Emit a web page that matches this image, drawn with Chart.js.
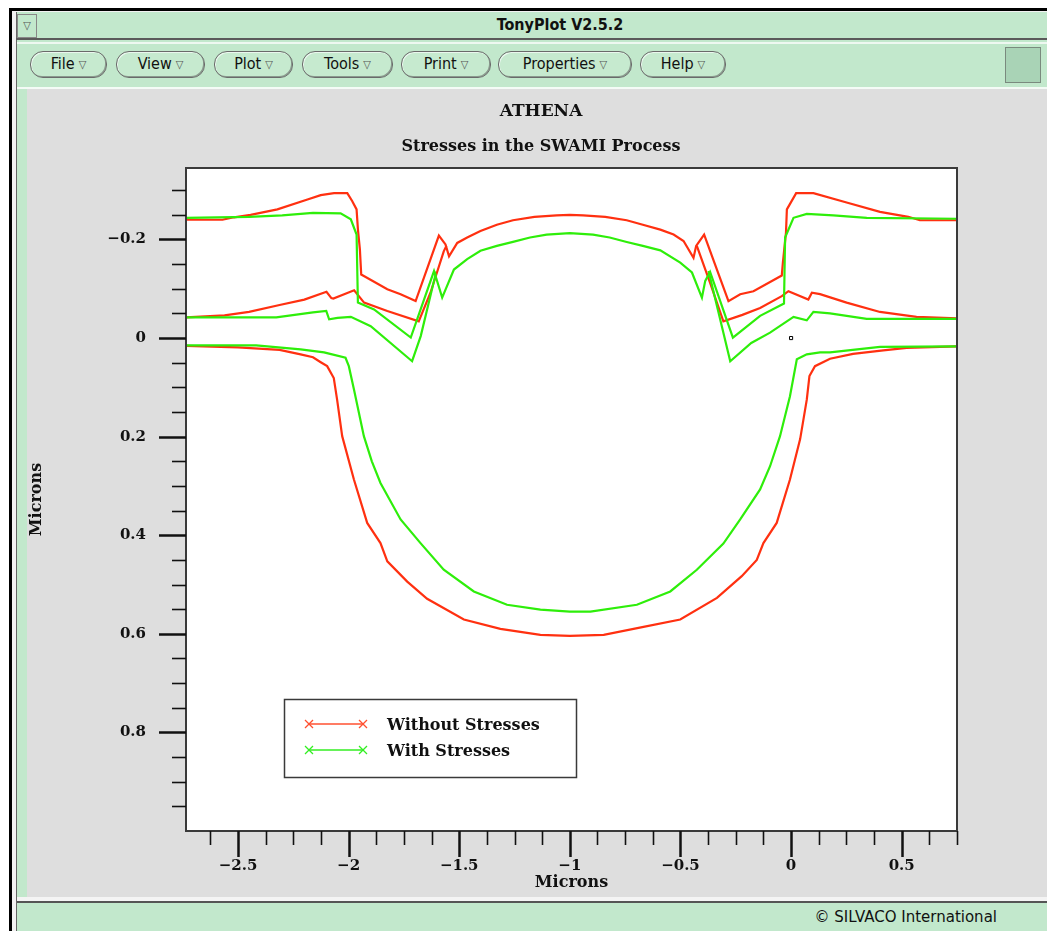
<!DOCTYPE html>
<html><head><meta charset="utf-8">
<script src="https://cdn.jsdelivr.net/npm/chart.js@4.4.1/dist/chart.umd.min.js"></script>
<style>
body{margin:0;width:1047px;height:931px;background:#fff;position:relative;overflow:hidden;font-family:"DejaVu Sans Condensed","DejaVu Sans",sans-serif}
.a{position:absolute;box-sizing:border-box}
.btn{position:absolute;top:51px;height:25px;border:1px solid #6a6a6a;border-radius:13px;background:#c6eacf;font-size:16px;line-height:23px;text-align:center;color:#111;box-shadow:inset -1px -1px 0 #8a9a8e,inset 1px 1px 0 #eaf7ee}
.btn span{font-size:11px;color:#555;margin-left:4px;vertical-align:1px}
#c{position:absolute;left:0;top:0;z-index:5}
</style></head>
<body>
<div class="a" style="left:9px;top:8px;width:1038px;height:923px;background:#000"></div>
<div class="a" style="left:12px;top:11px;width:1035px;height:920px;background:#f2f2f2"></div>
<div class="a" style="left:16px;top:12px;width:1031px;height:919px;background:#c2e8cc;border-left:1px solid #666"></div>
<div class="a" style="left:16px;top:13px;width:1031px;height:27px;border-bottom:2px solid #5a5a5a;"></div>
<div class="a" style="left:17px;top:14px;width:20px;height:24px;border:1px solid #888;background:#c2e8cc;font-size:11px;color:#555;text-align:center;line-height:22px">&#9661;</div>
<div class="a" style="left:300px;top:12px;width:520px;height:26px;text-align:center;font-weight:bold;font-size:16px;line-height:26px;color:#111">TonyPlot V2.5.2</div>
<div class="a" style="left:17px;top:42px;width:1030px;height:2px;background:#eef8f1"></div>
<div class="btn" style="left:30px;width:75px">File<span>&#9661;</span></div>
<div class="btn" style="left:116px;width:87px">View<span>&#9661;</span></div>
<div class="btn" style="left:214px;width:77px">Plot<span>&#9661;</span></div>
<div class="btn" style="left:302px;width:89px">Tools<span>&#9661;</span></div>
<div class="btn" style="left:401px;width:88px">Print<span>&#9661;</span></div>
<div class="btn" style="left:498px;width:132px">Properties<span>&#9661;</span></div>
<div class="btn" style="left:640px;width:84px">Help<span>&#9661;</span></div>
<div class="a" style="left:1005px;top:47px;width:36px;height:36px;background:#a9d3b6;border:1px solid #7a8a7e"></div>
<div class="a" style="left:17px;top:87px;width:1030px;height:2px;background:#f4fbf6"></div>
<div class="a" style="left:27px;top:89px;width:1020px;height:808px;background:#dedede"></div>
<div class="a" style="left:17px;top:897px;width:1030px;height:4px;background:#f4f4f4"></div>
<div class="a" style="left:17px;top:901px;width:1030px;height:2px;background:#555"></div>
<div class="a" style="left:600px;top:906px;width:397px;height:22px;text-align:right;font-family:'DejaVu Sans',sans-serif;font-size:15px;line-height:22px;color:#111">&copy; SILVACO International</div>
<canvas id="c" width="1047" height="931" style="width:1047px;height:931px"></canvas>
<script>
// ---------- data (x in microns, y in microns; y grows downward) ----------
const xTickLabels = [-2.5, -2, -1.5, -1, -0.5, 0, 0.5];
const yTickLabels = [-0.2, 0, 0.2, 0.4, 0.6, 0.8];
const seriesNames = ['Without Stresses', 'With Stresses'];

const redTop = [[-2.735,-0.240],[-2.57,-0.240],[-2.518,-0.245],[-2.443,-0.250],[-2.322,-0.261],[-2.186,-0.281],[-2.126,-0.290],[-2.066,-0.294],[-2.006,-0.294],[-1.984,-0.278],[-1.964,-0.261],[-1.958,-0.221],[-1.949,-0.180],[-1.943,-0.129],[-1.923,-0.124],[-1.825,-0.099],[-1.765,-0.089],[-1.697,-0.075],[-1.592,-0.208],[-1.562,-0.190],[-1.546,-0.166],[-1.509,-0.193],[-1.464,-0.204],[-1.404,-0.217],[-1.330,-0.230],[-1.257,-0.239],[-1.160,-0.246],[-1.060,-0.249],[-1.0,-0.250],[-0.940,-0.249],[-0.840,-0.246],[-0.743,-0.239],[-0.670,-0.230],[-0.591,-0.220],[-0.531,-0.210],[-0.486,-0.197],[-0.441,-0.163],[-0.429,-0.187],[-0.393,-0.210],[-0.283,-0.075],[-0.230,-0.089],[-0.170,-0.095],[-0.042,-0.127],[-0.037,-0.153],[-0.023,-0.214],[-0.019,-0.261],[0.023,-0.294],[0.101,-0.294],[0.251,-0.275],[0.402,-0.256],[0.530,-0.246],[0.582,-0.239],[0.75,-0.239]];
const redMidLeft = [[-2.735,-0.042],[-2.561,-0.046],[-2.45,-0.053],[-2.312,-0.067],[-2.20,-0.078],[-2.10,-0.094],[-2.078,-0.081],[-2.069,-0.080],[-1.975,-0.097],[-1.930,-0.072],[-1.825,-0.055],[-1.683,-0.034],[-1.630,-0.092],[-1.570,-0.176],[-1.558,-0.187]];
const redMidRight = [[-0.426,-0.187],[-0.366,-0.112],[-0.306,-0.034],[-0.220,-0.047],[-0.140,-0.061],[-0.042,-0.085],[-0.012,-0.095],[0.078,-0.078],[0.094,-0.092],[0.131,-0.089],[0.251,-0.072],[0.402,-0.053],[0.567,-0.043],[0.75,-0.040]];
const redLow = [[-2.735,0.016],[-2.5,0.019],[-2.312,0.024],[-2.217,0.033],[-2.161,0.039],[-2.126,0.049],[-2.097,0.057],[-2.067,0.081],[-2.052,0.125],[-2.029,0.199],[-1.976,0.287],[-1.916,0.375],[-1.856,0.416],[-1.825,0.453],[-1.735,0.494],[-1.645,0.529],[-1.479,0.571],[-1.314,0.590],[-1.133,0.602],[-1.0,0.604],[-0.847,0.602],[-0.667,0.586],[-0.501,0.571],[-0.335,0.527],[-0.223,0.483],[-0.155,0.450],[-0.125,0.416],[-0.065,0.375],[-0.005,0.287],[0.041,0.205],[0.071,0.125],[0.083,0.077],[0.108,0.057],[0.176,0.042],[0.28,0.032],[0.417,0.025],[0.522,0.020],[0.75,0.017]];

const greenTop = [[-2.735,-0.244],[-2.45,-0.246],[-2.30,-0.249],[-2.161,-0.254],[-2.036,-0.253],[-1.990,-0.241],[-1.964,-0.210],[-1.958,-0.072],[-1.885,-0.058],[-1.719,-0.001],[-1.614,-0.136],[-1.577,-0.082],[-1.524,-0.139],[-1.464,-0.160],[-1.404,-0.177],[-1.330,-0.187],[-1.257,-0.195],[-1.180,-0.204],[-1.105,-0.210],[-1.0,-0.213],[-0.895,-0.210],[-0.820,-0.204],[-0.743,-0.195],[-0.670,-0.187],[-0.591,-0.178],[-0.501,-0.153],[-0.448,-0.133],[-0.403,-0.082],[-0.388,-0.116],[-0.366,-0.134],[-0.263,-0.001],[-0.140,-0.045],[-0.032,-0.070],[-0.027,-0.204],[0.011,-0.244],[0.071,-0.252],[0.191,-0.249],[0.342,-0.244],[0.75,-0.242]];
const greenMidLeft = [[-2.735,-0.042],[-2.327,-0.042],[-2.161,-0.052],[-2.101,-0.055],[-2.088,-0.038],[-2.050,-0.041],[-1.990,-0.043],[-1.900,-0.024],[-1.713,0.047],[-1.674,-0.004],[-1.607,-0.129],[-1.614,-0.136]];
const greenMidRight = [[-0.373,-0.136],[-0.275,0.047],[-0.180,0.010],[-0.095,-0.011],[0.011,-0.043],[0.071,-0.036],[0.101,-0.053],[0.176,-0.050],[0.342,-0.039],[0.75,-0.039]];
const greenLow = [[-2.735,0.015],[-2.418,0.015],[-2.217,0.023],[-2.111,0.029],[-2.014,0.040],[-1.999,0.057],[-1.976,0.104],[-1.931,0.199],[-1.895,0.250],[-1.856,0.294],[-1.765,0.368],[-1.675,0.416],[-1.570,0.470],[-1.434,0.514],[-1.284,0.541],[-1.133,0.551],[-1.0,0.555],[-0.907,0.555],[-0.697,0.541],[-0.546,0.514],[-0.426,0.470],[-0.306,0.417],[-0.230,0.368],[-0.140,0.307],[-0.095,0.260],[-0.050,0.199],[-0.005,0.118],[0.026,0.043],[0.071,0.033],[0.131,0.029],[0.176,0.029],[0.402,0.018],[0.75,0.017]];
const originMark = [[0, 0]];

// ---------- styling ----------
const RED = '#ff3010', GREEN = '#2eee0a';
const SERIF = '"DejaVu Serif", "Liberation Serif", serif';
const toPts = a => a.map(([x, y]) => ({x, y}));
const line = (data, color) => ({data: toPts(data), showLine: true, borderColor: color, backgroundColor: color, borderWidth: 2.2, pointRadius: 0, fill: false, tension: 0});
const fmt = v => (v < 0 ? '\u2212' + Math.abs(v) : String(v));

const decor = {
  id: 'decor',
  beforeDraw(chart) {
    const {ctx, chartArea: a} = chart;
    ctx.save();
    ctx.fillStyle = '#fff';
    ctx.fillRect(a.left, a.top, a.right - a.left, a.bottom - a.top);
    ctx.restore();
  },
  afterDraw(chart) {
    const {ctx, chartArea: a} = chart;
    const xs = chart.scales.x, ys = chart.scales.y;
    ctx.save();
    ctx.strokeStyle = '#3a3a3a'; ctx.lineWidth = 2;
    ctx.strokeRect(a.left, a.top, a.right - a.left, a.bottom - a.top);
    ctx.strokeStyle = '#111';
    const seg = (x1, y1, x2, y2, w) => { ctx.lineWidth = w; ctx.beginPath(); ctx.moveTo(x1, y1); ctx.lineTo(x2, y2); ctx.stroke(); };
    for (let k = -22; k <= 6; k++) {
      const v = k * 0.125;
      if (v < xs.min - 1e-9 || v > xs.max + 1e-9) continue;
      const p = Math.round(xs.getPixelForValue(v)) + 0.5;
      const major = Math.abs(v * 2 - Math.round(v * 2)) < 1e-9;
      seg(p, a.bottom, p, a.bottom + (major ? 26 : 14), major ? 2.5 : 1.6);
    }
    for (let k = -6; k <= 19; k++) {
      const v = k * 0.05;
      const p = Math.round(ys.getPixelForValue(v)) + 0.5;
      const major = Math.abs(v * 5 - Math.round(v * 5)) < 1e-9;
      seg(a.left, p, a.left - (major ? 27 : 14), p, major ? 2.5 : 1.6);
    }
    ctx.fillStyle = '#111';
    ctx.textAlign = 'center'; ctx.textBaseline = 'middle';
    ctx.font = 'bold 17px ' + SERIF;
    ctx.fillText('ATHENA', 541, 112);
    ctx.font = 'bold 16px ' + SERIF;
    ctx.fillText('Stresses in the SWAMI Process', 541, 147);
    const bx = 284, by = 699, bw = 292, bh = 78;
    ctx.fillStyle = '#fff'; ctx.fillRect(bx, by, bw, bh);
    ctx.strokeStyle = '#3a3a3a'; ctx.lineWidth = 1.5; ctx.strokeRect(bx + 0.5, by + 0.5, bw, bh);
    const entries = [[seriesNames[0], '#ff5030', 724], [seriesNames[1], '#33ee22', 750]];
    entries.forEach(([name, col, y]) => {
      ctx.strokeStyle = col;
      seg(309, y, 363, y, 1.5);
      [309, 363].forEach(cx => { seg(cx - 4, y - 4, cx + 4, y + 4, 1.3); seg(cx - 4, y + 4, cx + 4, y - 4, 1.3); });
      ctx.fillStyle = '#111'; ctx.textAlign = 'left'; ctx.font = 'bold 16px ' + SERIF;
      ctx.fillText(name, 387, y + 2);
    });
    ctx.restore();
  }
};

new Chart(document.getElementById('c'), {
  type: 'scatter',
  data: {
    datasets: [
      {data: toPts(originMark), showLine: false, pointStyle: 'rect', pointRadius: 2.2, borderColor: '#000', backgroundColor: '#fff', borderWidth: 1},
      line(greenTop, GREEN), line(greenMidLeft, GREEN), line(greenMidRight, GREEN), line(greenLow, GREEN),
      line(redTop, RED), line(redMidLeft, RED), line(redMidRight, RED), line(redLow, RED)
    ]
  },
  options: {
    responsive: false, animation: false, devicePixelRatio: 1,
    layout: {padding: {top: 168, right: 90, left: 0, bottom: 0}},
    plugins: {legend: {display: false}, tooltip: {enabled: false}, title: {display: false}},
    scales: {
      x: {
        type: 'linear', min: -2.735, max: 0.75,
        afterBuildTicks: s => { s.ticks = xTickLabels.map(v => ({value: v})); },
        afterFit: s => { s.height = 100; },
        grid: {display: false, drawTicks: true, tickLength: 24},
        border: {display: false},
        ticks: {padding: 2, autoSkip: false, maxRotation: 0, color: '#111', font: {family: SERIF, size: 15, weight: 'bold'}, callback: v => fmt(v)},
        title: {display: true, text: 'Microns', color: '#111', font: {family: SERIF, size: 16, weight: 'bold'}, padding: {top: 0, bottom: 39}}
      },
      y: {
        type: 'linear', min: -0.345, max: 1.0, reverse: true,
        afterBuildTicks: s => { s.ticks = yTickLabels.map(v => ({value: v})); },
        afterFit: s => { s.width = 186; },
        grid: {display: false, drawTicks: true, tickLength: 27},
        border: {display: false},
        ticks: {padding: 13, autoSkip: false, color: '#111', font: {family: SERIF, size: 15, weight: 'bold'}, callback: v => fmt(v)},
        title: {display: true, text: 'Microns', color: '#111', font: {family: SERIF, size: 16, weight: 'bold'}, padding: {top: 27, bottom: 0}}
      }
    }
  },
  plugins: [decor]
});
</script>
</body></html>
